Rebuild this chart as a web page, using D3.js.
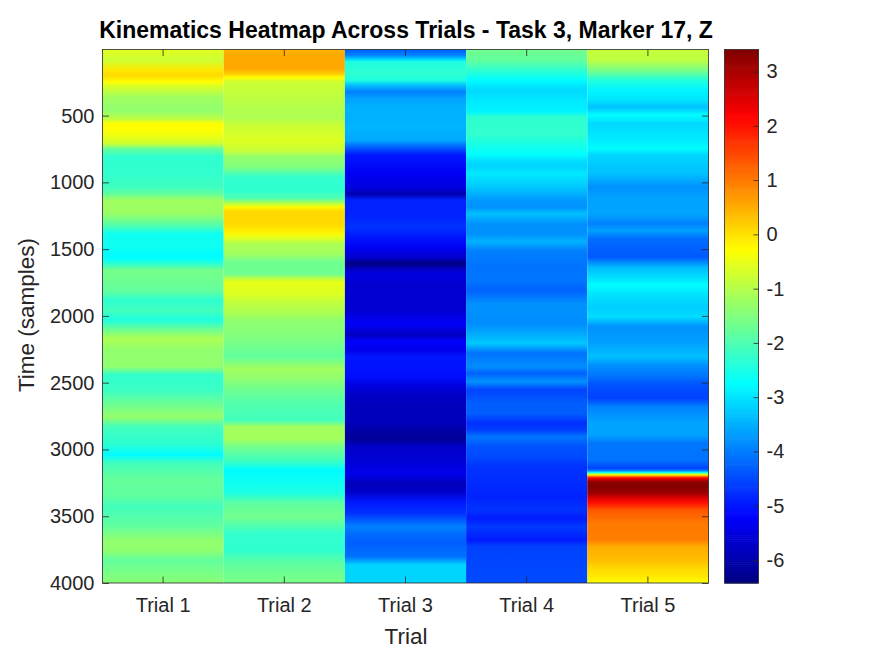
<!DOCTYPE html>
<html>
<head>
<meta charset="utf-8">
<script src="https://cdn.jsdelivr.net/npm/d3@7"></script>
<style>
  html, body { margin: 0; padding: 0; background: #fff; }
  svg { display: block; }
  text { font-family: "Liberation Sans", Arial, sans-serif; fill: #262626; }
</style>
</head>
<body>
<script>
const trials = ["Trial 1", "Trial 2", "Trial 3", "Trial 4", "Trial 5"];
const yTicks = [500, 1000, 1500, 2000, 2500, 3000, 3500, 4000];
const colorTicks = [-6, -5, -4, -3, -2, -1, 0, 1, 2, 3];
const colorLimits = [-6.424, 3.406];
const jetColors = ["#000080", "#0000ff", "#00ffff", "#ffff00", "#ff0000", "#800000"];

// each trial: sample number and Z value
const trial1Samples = [5,85,160,197,247,272,360,460,522,560,610,660,710,750,810,935,1035,1085,1135,1235,1322,1385,1485,1535,1572,1610,1660,1735,1810,1885,1960,2030,2105,2168,2255,2380,2443,2555,2630,2755,2830,2955,3040,3104,3230,3353,3428,3503,3578,3678,3753,3828,3928,4000];
const trial1Values = [-0.55,-0.75,-0.05,0.1,-0.28,-0.55,-1.2,-1.35,-0.95,-0.28,-0.3,-0.5,-0.75,-1.8,-2.3,-2.25,-2.15,-1.8,-1.2,-1.25,-1.95,-2.6,-2.6,-2.75,-2.7,-2.3,-1.6,-1.7,-1.8,-2.3,-2.1,-2.45,-1.7,-1.05,-1.35,-1.35,-2.25,-2.2,-1.85,-1.3,-2.1,-2.3,-2.75,-2.1,-1.75,-1.85,-2.1,-1.95,-1.8,-1.35,-1.35,-1.8,-1.55,-1.4];

const trial2Samples = [5,60,147,185,215,247,435,510,585,685,760,810,885,960,1060,1120,1160,1185,1215,1310,1372,1410,1460,1535,1597,1685,1722,1747,1835,1910,1985,2030,2155,2305,2393,2468,2530,2655,2780,2830,2917,2980,3080,3154,3254,3329,3403,3503,3578,3628,3753,3853,3928,4000];
const trial2Values = [0.45,0.55,0.55,0.25,-0.28,-0.75,-1.0,-1.05,-0.75,-0.6,-0.8,-1.35,-1.5,-2.25,-2.3,-1.95,-0.9,-0.28,0.1,0.1,-0.15,-0.5,-1.05,-1.2,-1.7,-1.7,-0.9,-0.5,-0.6,-0.9,-1.1,-1.35,-1.5,-1.8,-1.2,-1.35,-1.6,-1.95,-2.1,-1.2,-1.15,-1.65,-2.1,-2.75,-2.6,-2.45,-1.85,-1.65,-2.0,-2.25,-2.3,-1.85,-1.7,-1.55];

const trial3Samples = [5,47,80,97,185,235,272,322,372,435,535,585,685,735,797,935,1035,1088,1133,1258,1332,1410,1485,1560,1610,1647,1685,1760,1956,2056,2143,2193,2255,2305,2455,2517,2605,2705,2805,2917,2980,3080,3179,3254,3316,3391,3478,3578,3653,3703,3803,3865,3928,4000];
const trial3Values = [-4.3,-3.96,-3.05,-2.45,-2.3,-2.45,-3.35,-3.95,-3.65,-3.5,-3.5,-3.45,-3.55,-4.25,-5.0,-5.3,-5.5,-5.95,-4.85,-4.85,-4.7,-5.0,-5.3,-5.65,-6.42,-5.8,-5.5,-5.65,-5.65,-5.25,-5.8,-5.2,-5.4,-5.0,-5.05,-5.5,-5.75,-5.85,-5.85,-6.2,-5.7,-5.6,-5.35,-5.85,-5.7,-5.0,-4.7,-3.95,-4.2,-4.3,-4.1,-3.15,-3.15,-3.15];

const trial4Samples = [5,85,160,235,310,385,472,510,635,735,797,847,885,935,1035,1135,1185,1235,1310,1385,1445,1510,1635,1735,1810,1910,1956,2056,2130,2205,2280,2380,2430,2493,2555,2655,2730,2805,2855,2905,2980,3054,3129,3254,3353,3453,3516,3578,3678,3728,4000];
const trial4Values = [-1.65,-1.8,-2.3,-2.75,-3.1,-2.95,-2.85,-2.3,-2.25,-2.55,-2.75,-3.1,-3.15,-2.95,-3.25,-3.7,-3.8,-3.35,-3.8,-3.8,-3.5,-3.95,-4.1,-4.05,-4.25,-3.8,-3.8,-3.85,-3.55,-3.25,-4.1,-3.85,-4.25,-3.8,-4.55,-4.3,-4.3,-4.75,-4.6,-4.05,-4.4,-4.5,-4.7,-4.8,-4.85,-4.7,-4.95,-4.65,-4.95,-4.55,-4.5];

const trial5Samples = [5,85,160,235,310,385,435,497,560,685,747,797,935,1035,1110,1235,1310,1360,1422,1485,1560,1635,1710,1770,1835,1935,2006,2080,2205,2305,2368,2455,2517,2617,2680,2805,2892,2955,3080,3141,3159,3171,3181,3189,3199,3214,3241,3279,3329,3366,3403,3453,3553,3678,3728,3828,3903,3953,4000];
const trial5Values = [-0.85,-0.9,-1.55,-2.4,-2.85,-3.0,-3.35,-2.75,-3.1,-2.9,-2.75,-3.15,-3.35,-3.8,-3.65,-3.6,-3.95,-3.65,-4.15,-4.25,-4.35,-3.4,-3.05,-2.75,-3.0,-3.2,-3.05,-3.8,-3.65,-3.35,-3.8,-4.1,-4.4,-4.55,-3.95,-3.6,-3.65,-4.05,-4.1,-4.55,-3.95,-2.75,-1.5,-0.28,0.75,2.18,3.25,3.4,3.1,2.45,2.0,1.35,1.0,0.95,0.5,0.35,0.05,-0.05,-0.3];

const columns = [
  [trial1Samples, trial1Values],
  [trial2Samples, trial2Values],
  [trial3Samples, trial3Values],
  [trial4Samples, trial4Values],
  [trial5Samples, trial5Values]
];

const w = 875, h = 656;
const pLeft = 102.5, pRight = 708.5, pTop = 49.5, pBottom = 583;
const barLeft = 724.5, barRight = 758.5;

const svg = d3.select("body").append("svg").attr("width", w).attr("height", h);
const defs = svg.append("defs");

const x = d3.scaleBand().domain(trials).range([pLeft, pRight]);
const y = d3.scaleLinear().domain([5, 4000]).range([pTop, pBottom]);
const cY = d3.scaleLinear().domain(colorLimits).range([pBottom, pTop]);

// jet colormap, 256 steps like the figure's colorbar
const jet = d3.scaleLinear().domain([0, 0.125, 0.375, 0.625, 0.875, 1]).range(jetColors);
const levels = d3.range(256).map(i => jet((i + 0.5) / 256));
const color = d3.scaleQuantize().domain(colorLimits).range(levels);

// heatmap columns
columns.forEach(([samples, values], i) => {
  const grad = defs.append("linearGradient")
    .attr("id", "col" + i)
    .attr("gradientUnits", "userSpaceOnUse")
    .attr("x1", 0).attr("x2", 0).attr("y1", y(samples[0])).attr("y2", y(samples[samples.length - 1]));
  const span = y(samples[samples.length - 1]) - y(samples[0]);
  grad.selectAll("stop").data(values).join("stop")
    .attr("offset", (d, j) => (y(samples[j]) - y(samples[0])) / span)
    .attr("stop-color", d => color(d));
});

svg.append("g").selectAll("rect").data(trials).join("rect")
  .attr("x", d => x(d))
  .attr("y", pTop)
  .attr("width", x.bandwidth())
  .attr("height", pBottom - pTop)
  .attr("fill", (d, i) => `url(#col${i})`);

// colorbar
svg.append("g").selectAll("rect").data(levels).join("rect")
  .attr("x", barLeft)
  .attr("width", barRight - barLeft)
  .attr("y", (d, i) => cY(colorLimits[0] + (i + 1) / 256 * (colorLimits[1] - colorLimits[0])))
  .attr("height", (pBottom - pTop) / 256 + 0.6)
  .attr("fill", d => d);

// axes
const styleAxis = g => {
  g.select(".domain").remove();
  g.selectAll("line").attr("stroke", "#262626").attr("stroke-width", 0.8);
  g.selectAll("text").style("font-size", "20px").style("fill", "#262626");
};

svg.append("g").attr("transform", `translate(0,${pBottom})`)
  .call(d3.axisBottom(x).tickSizeInner(-6.5).tickSizeOuter(0).tickPadding(15))
  .call(styleAxis);
svg.append("g").attr("transform", `translate(0,${pTop})`)
  .call(d3.axisTop(x).tickSizeInner(-6.5).tickSizeOuter(0).tickFormat(""))
  .call(styleAxis);
svg.append("g").attr("transform", `translate(${pLeft},0)`)
  .call(d3.axisLeft(y).tickValues(yTicks).tickSizeInner(-6.5).tickSizeOuter(0).tickPadding(8).tickFormat(d => d))
  .call(styleAxis);
svg.append("g").attr("transform", `translate(${pRight},0)`)
  .call(d3.axisRight(y).tickValues(yTicks).tickSizeInner(-6.5).tickSizeOuter(0).tickFormat(""))
  .call(styleAxis);
svg.append("g").attr("transform", `translate(${barRight},0)`)
  .call(d3.axisRight(cY).tickValues(colorTicks).tickSizeInner(-5).tickSizeOuter(0).tickPadding(8).tickFormat(d => d))
  .call(styleAxis);

// boxes
[[pLeft, pRight], [barLeft, barRight]].forEach(([a, b]) => {
  svg.append("rect").attr("x", a).attr("y", pTop).attr("width", b - a).attr("height", pBottom - pTop)
    .attr("fill", "none").attr("stroke", "#262626").attr("stroke-width", 0.8);
});

// labels
svg.append("text").attr("x", 406).attr("y", 38).attr("text-anchor", "middle")
  .style("font-size", "23px").style("font-weight", "bold").style("fill", "#000")
  .text("Kinematics Heatmap Across Trials - Task 3, Marker 17, Z");
svg.append("text").attr("x", 406).attr("y", 644).attr("text-anchor", "middle")
  .style("font-size", "22.5px").text("Trial");
svg.append("text").attr("transform", "translate(34,315) rotate(-90)").attr("text-anchor", "middle")
  .style("font-size", "22.5px").text("Time (samples)");
</script>
</body>
</html>
